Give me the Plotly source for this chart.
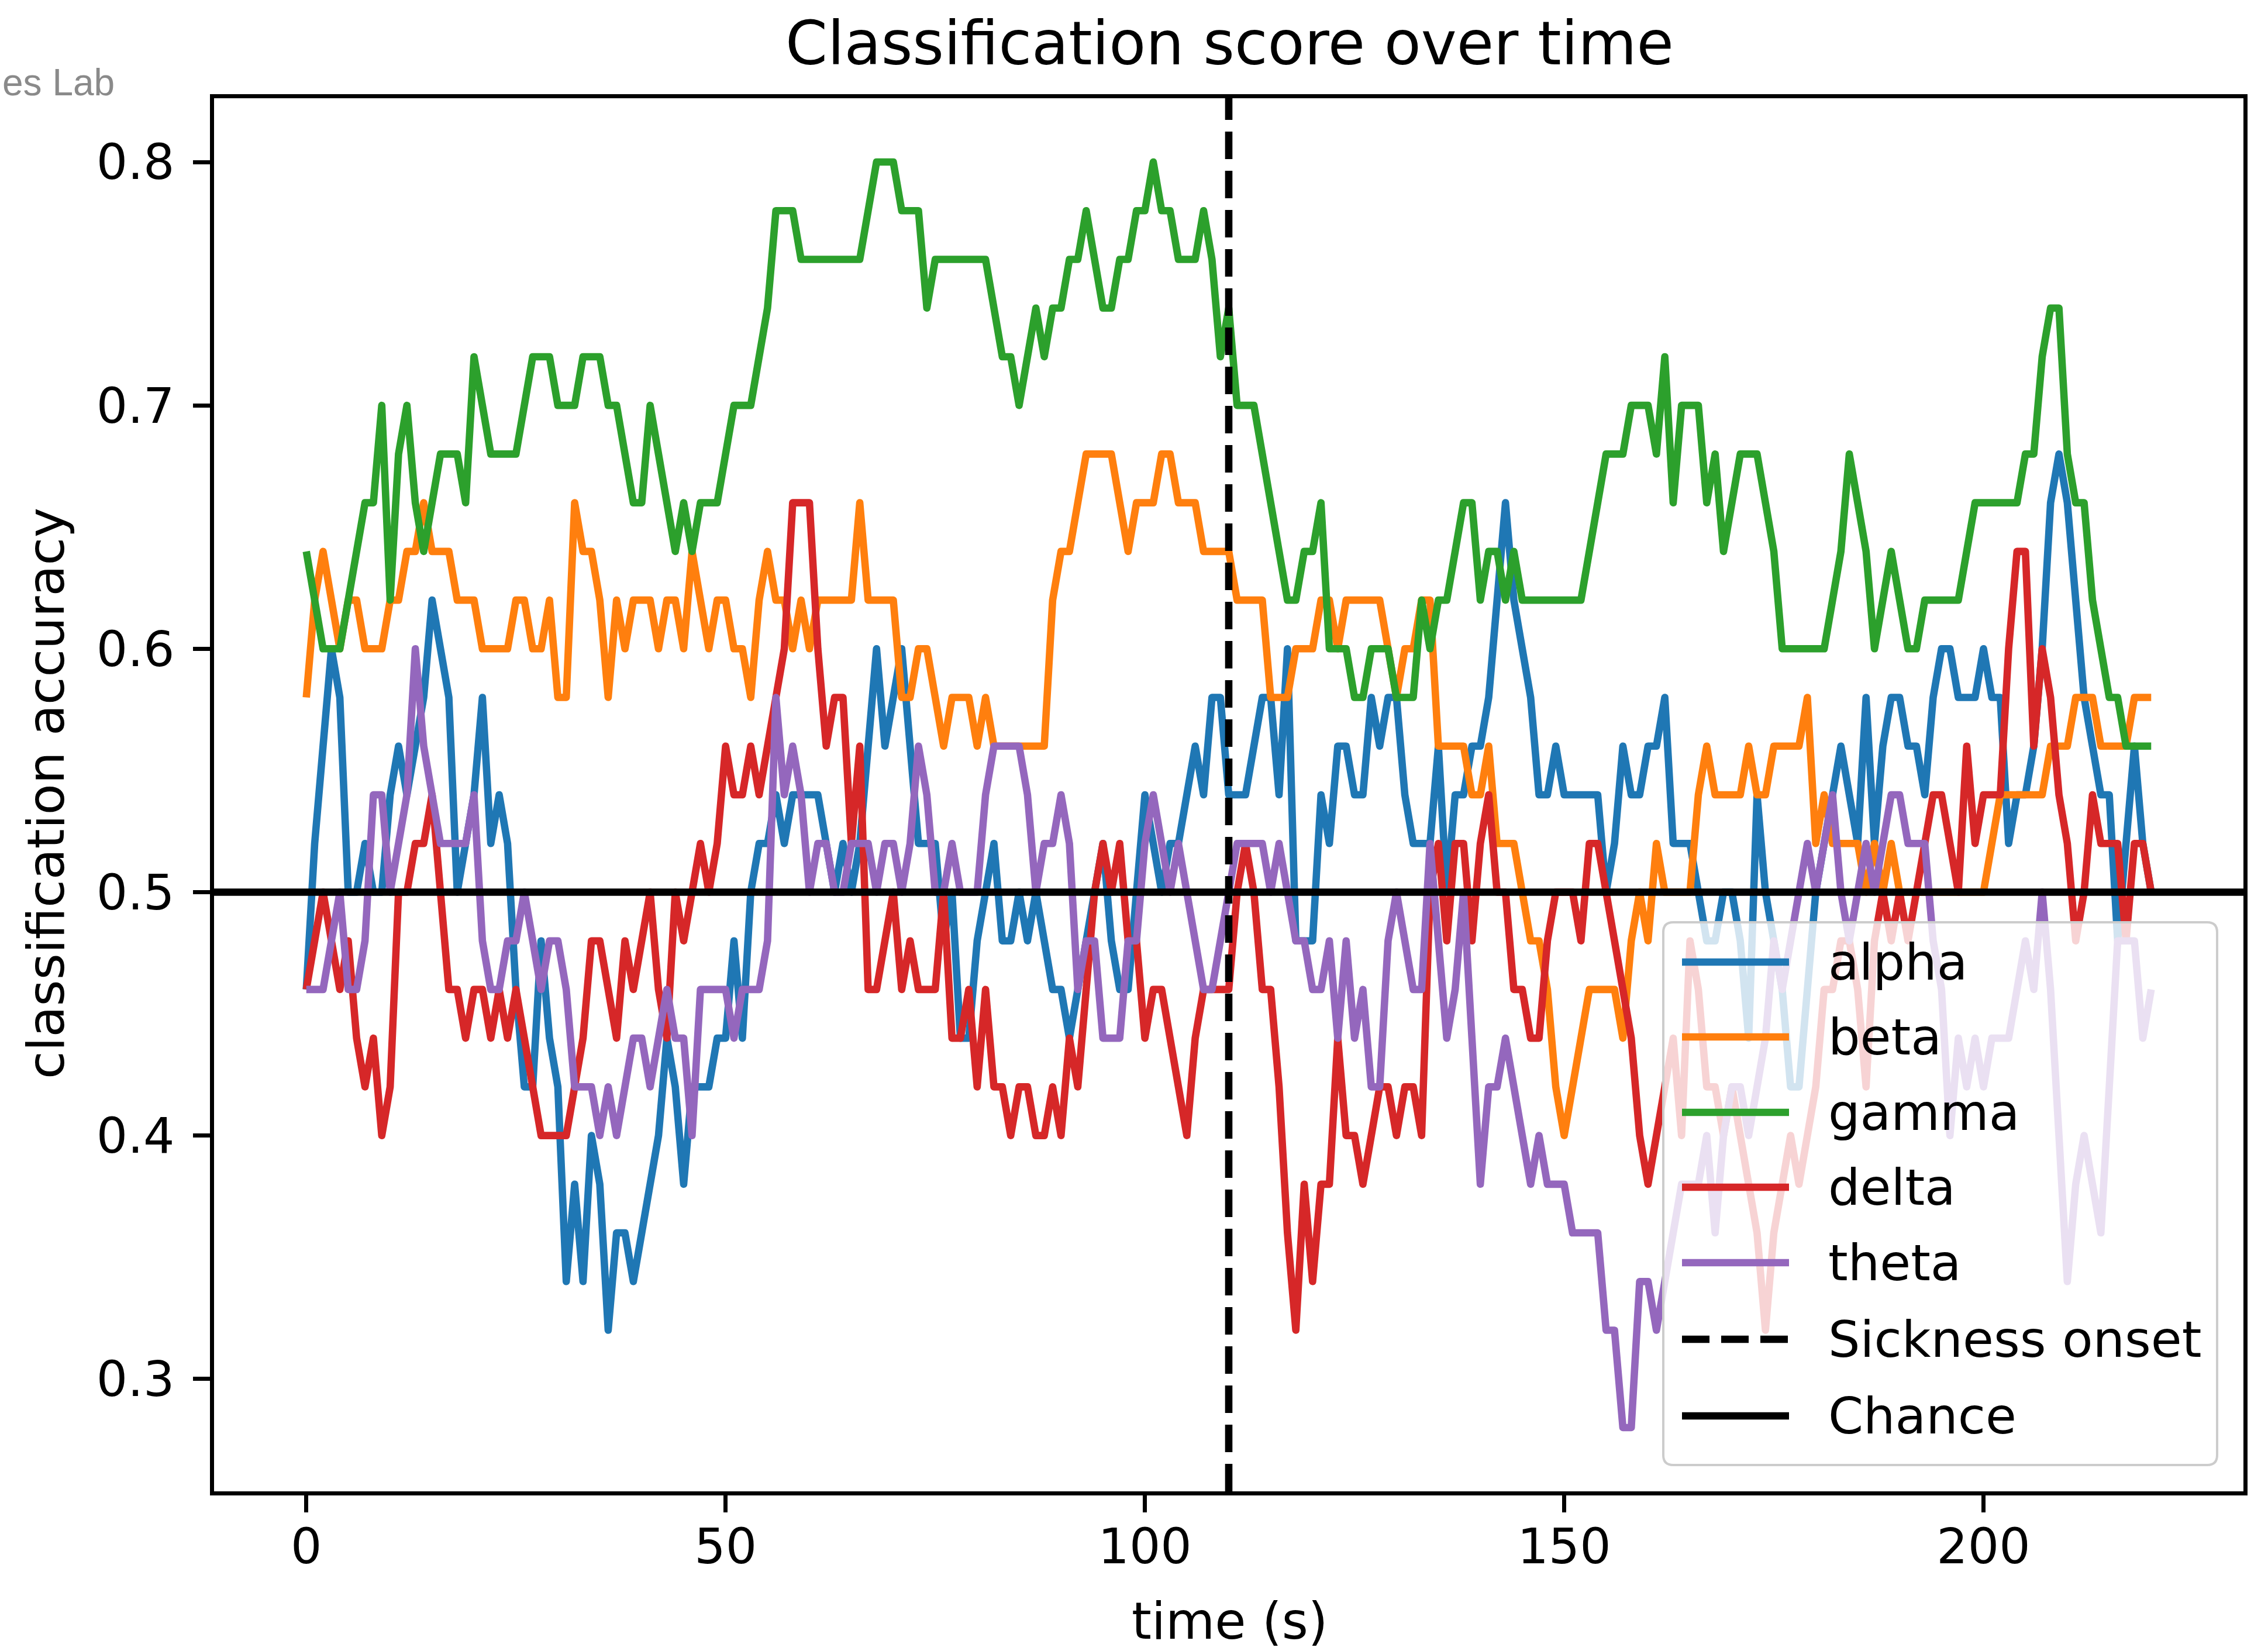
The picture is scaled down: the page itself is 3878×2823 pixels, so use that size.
import plotly.graph_objects as go

# ---------------- data ----------------
time_s = list(range(221))

alpha = [
    0.46, 0.52, 0.56, 0.60, 0.58, 0.50, 0.50, 0.52, 0.50, 0.50,
    0.54, 0.56, 0.54, 0.56, 0.58, 0.62, 0.60, 0.58, 0.50, 0.52,
    0.54, 0.58, 0.52, 0.54, 0.52, 0.46, 0.42, 0.42, 0.48, 0.44,
    0.42, 0.34, 0.38, 0.34, 0.40, 0.38, 0.32, 0.36, 0.36, 0.34,
    0.36, 0.38, 0.40, 0.44, 0.42, 0.38, 0.42, 0.42, 0.42, 0.44,
    0.44, 0.48, 0.44, 0.50, 0.52, 0.52, 0.54, 0.52, 0.54, 0.54,
    0.54, 0.54, 0.52, 0.50, 0.52, 0.50, 0.52, 0.56, 0.60, 0.56,
    0.58, 0.60, 0.56, 0.52, 0.52, 0.52, 0.48, 0.50, 0.44, 0.44,
    0.48, 0.50, 0.52, 0.48, 0.48, 0.50, 0.48, 0.50, 0.48, 0.46,
    0.46, 0.44, 0.46, 0.48, 0.50, 0.52, 0.48, 0.46, 0.46, 0.50,
    0.54, 0.52, 0.50, 0.52, 0.52, 0.54, 0.56, 0.54, 0.58, 0.58,
    0.54, 0.54, 0.54, 0.56, 0.58, 0.58, 0.54, 0.60, 0.48, 0.48,
    0.48, 0.54, 0.52, 0.56, 0.56, 0.54, 0.54, 0.58, 0.56, 0.58,
    0.58, 0.54, 0.52, 0.52, 0.52, 0.56, 0.50, 0.54, 0.54, 0.56,
    0.56, 0.58, 0.62, 0.66, 0.62, 0.60, 0.58, 0.54, 0.54, 0.56,
    0.54, 0.54, 0.54, 0.54, 0.54, 0.50, 0.52, 0.56, 0.54, 0.54,
    0.56, 0.56, 0.58, 0.52, 0.52, 0.52, 0.50, 0.48, 0.48, 0.50,
    0.50, 0.48, 0.44, 0.54, 0.50, 0.48, 0.46, 0.42, 0.42, 0.46,
    0.50, 0.52, 0.54, 0.56, 0.54, 0.52, 0.58, 0.52, 0.56, 0.58,
    0.58, 0.56, 0.56, 0.54, 0.58, 0.60, 0.60, 0.58, 0.58, 0.58,
    0.60, 0.58, 0.58, 0.52, 0.54, 0.54, 0.56, 0.60, 0.66, 0.68,
    0.66, 0.62, 0.58, 0.56, 0.54, 0.54, 0.48, 0.52, 0.56, 0.52,
    0.50,
]

beta = [
    0.58, 0.62, 0.64, 0.62, 0.60, 0.62, 0.62, 0.60, 0.60, 0.60,
    0.62, 0.62, 0.64, 0.64, 0.66, 0.64, 0.64, 0.64, 0.62, 0.62,
    0.62, 0.60, 0.60, 0.60, 0.60, 0.62, 0.62, 0.60, 0.60, 0.62,
    0.58, 0.58, 0.66, 0.64, 0.64, 0.62, 0.58, 0.62, 0.60, 0.62,
    0.62, 0.62, 0.60, 0.62, 0.62, 0.60, 0.64, 0.62, 0.60, 0.62,
    0.62, 0.60, 0.60, 0.58, 0.62, 0.64, 0.62, 0.62, 0.60, 0.62,
    0.60, 0.62, 0.62, 0.62, 0.62, 0.62, 0.66, 0.62, 0.62, 0.62,
    0.62, 0.58, 0.58, 0.60, 0.60, 0.58, 0.56, 0.58, 0.58, 0.58,
    0.56, 0.58, 0.56, 0.56, 0.56, 0.56, 0.56, 0.56, 0.56, 0.62,
    0.64, 0.64, 0.66, 0.68, 0.68, 0.68, 0.68, 0.66, 0.64, 0.66,
    0.66, 0.66, 0.68, 0.68, 0.66, 0.66, 0.66, 0.64, 0.64, 0.64,
    0.64, 0.62, 0.62, 0.62, 0.62, 0.58, 0.58, 0.58, 0.60, 0.60,
    0.60, 0.62, 0.62, 0.60, 0.62, 0.62, 0.62, 0.62, 0.62, 0.60,
    0.58, 0.60, 0.60, 0.62, 0.62, 0.56, 0.56, 0.56, 0.56, 0.54,
    0.54, 0.56, 0.52, 0.52, 0.52, 0.50, 0.48, 0.48, 0.46, 0.42,
    0.40, 0.42, 0.44, 0.46, 0.46, 0.46, 0.46, 0.44, 0.48, 0.50,
    0.48, 0.52, 0.50, 0.50, 0.50, 0.50, 0.54, 0.56, 0.54, 0.54,
    0.54, 0.54, 0.56, 0.54, 0.54, 0.56, 0.56, 0.56, 0.56, 0.58,
    0.52, 0.54, 0.52, 0.52, 0.52, 0.52, 0.50, 0.52, 0.50, 0.52,
    0.50, 0.50, 0.50, 0.50, 0.50, 0.50, 0.50, 0.50, 0.50, 0.50,
    0.50, 0.52, 0.54, 0.54, 0.54, 0.54, 0.54, 0.54, 0.56, 0.56,
    0.56, 0.58, 0.58, 0.58, 0.56, 0.56, 0.56, 0.56, 0.58, 0.58,
    0.58,
]

gamma = [
    0.64, 0.62, 0.60, 0.60, 0.60, 0.62, 0.64, 0.66, 0.66, 0.70,
    0.62, 0.68, 0.70, 0.66, 0.64, 0.66, 0.68, 0.68, 0.68, 0.66,
    0.72, 0.70, 0.68, 0.68, 0.68, 0.68, 0.70, 0.72, 0.72, 0.72,
    0.70, 0.70, 0.70, 0.72, 0.72, 0.72, 0.70, 0.70, 0.68, 0.66,
    0.66, 0.70, 0.68, 0.66, 0.64, 0.66, 0.64, 0.66, 0.66, 0.66,
    0.68, 0.70, 0.70, 0.70, 0.72, 0.74, 0.78, 0.78, 0.78, 0.76,
    0.76, 0.76, 0.76, 0.76, 0.76, 0.76, 0.76, 0.78, 0.80, 0.80,
    0.80, 0.78, 0.78, 0.78, 0.74, 0.76, 0.76, 0.76, 0.76, 0.76,
    0.76, 0.76, 0.74, 0.72, 0.72, 0.70, 0.72, 0.74, 0.72, 0.74,
    0.74, 0.76, 0.76, 0.78, 0.76, 0.74, 0.74, 0.76, 0.76, 0.78,
    0.78, 0.80, 0.78, 0.78, 0.76, 0.76, 0.76, 0.78, 0.76, 0.72,
    0.74, 0.70, 0.70, 0.70, 0.68, 0.66, 0.64, 0.62, 0.62, 0.64,
    0.64, 0.66, 0.60, 0.60, 0.60, 0.58, 0.58, 0.60, 0.60, 0.60,
    0.58, 0.58, 0.58, 0.62, 0.60, 0.62, 0.62, 0.64, 0.66, 0.66,
    0.62, 0.64, 0.64, 0.62, 0.64, 0.62, 0.62, 0.62, 0.62, 0.62,
    0.62, 0.62, 0.62, 0.64, 0.66, 0.68, 0.68, 0.68, 0.70, 0.70,
    0.70, 0.68, 0.72, 0.66, 0.70, 0.70, 0.70, 0.66, 0.68, 0.64,
    0.66, 0.68, 0.68, 0.68, 0.66, 0.64, 0.60, 0.60, 0.60, 0.60,
    0.60, 0.60, 0.62, 0.64, 0.68, 0.66, 0.64, 0.60, 0.62, 0.64,
    0.62, 0.60, 0.60, 0.62, 0.62, 0.62, 0.62, 0.62, 0.64, 0.66,
    0.66, 0.66, 0.66, 0.66, 0.66, 0.68, 0.68, 0.72, 0.74, 0.74,
    0.68, 0.66, 0.66, 0.62, 0.60, 0.58, 0.58, 0.56, 0.56, 0.56,
    0.56,
]

delta = [
    0.46, 0.48, 0.50, 0.48, 0.46, 0.48, 0.44, 0.42, 0.44, 0.40,
    0.42, 0.50, 0.50, 0.52, 0.52, 0.54, 0.50, 0.46, 0.46, 0.44,
    0.46, 0.46, 0.44, 0.46, 0.44, 0.46, 0.44, 0.42, 0.40, 0.40,
    0.40, 0.40, 0.42, 0.44, 0.48, 0.48, 0.46, 0.44, 0.48, 0.46,
    0.48, 0.50, 0.46, 0.44, 0.50, 0.48, 0.50, 0.52, 0.50, 0.52,
    0.56, 0.54, 0.54, 0.56, 0.54, 0.56, 0.58, 0.60, 0.66, 0.66,
    0.66, 0.60, 0.56, 0.58, 0.58, 0.52, 0.56, 0.46, 0.46, 0.48,
    0.50, 0.46, 0.48, 0.46, 0.46, 0.46, 0.50, 0.44, 0.44, 0.46,
    0.42, 0.46, 0.42, 0.42, 0.40, 0.42, 0.42, 0.40, 0.40, 0.42,
    0.40, 0.44, 0.42, 0.46, 0.50, 0.52, 0.50, 0.52, 0.48, 0.48,
    0.44, 0.46, 0.46, 0.44, 0.42, 0.40, 0.44, 0.46, 0.46, 0.46,
    0.46, 0.50, 0.52, 0.50, 0.46, 0.46, 0.42, 0.36, 0.32, 0.38,
    0.34, 0.38, 0.38, 0.44, 0.40, 0.40, 0.38, 0.40, 0.42, 0.42,
    0.40, 0.42, 0.42, 0.40, 0.50, 0.52, 0.48, 0.52, 0.52, 0.48,
    0.52, 0.54, 0.50, 0.50, 0.46, 0.46, 0.44, 0.44, 0.48, 0.50,
    0.50, 0.50, 0.48, 0.52, 0.52, 0.50, 0.48, 0.46, 0.44, 0.40,
    0.38, 0.40, 0.42, 0.44, 0.40, 0.48, 0.46, 0.42, 0.42, 0.40,
    0.42, 0.40, 0.38, 0.36, 0.32, 0.36, 0.38, 0.40, 0.38, 0.40,
    0.42, 0.46, 0.46, 0.48, 0.48, 0.46, 0.42, 0.48, 0.50, 0.48,
    0.50, 0.48, 0.50, 0.52, 0.54, 0.54, 0.52, 0.50, 0.56, 0.52,
    0.54, 0.54, 0.54, 0.60, 0.64, 0.64, 0.56, 0.60, 0.58, 0.54,
    0.52, 0.48, 0.50, 0.54, 0.52, 0.52, 0.52, 0.48, 0.52, 0.52,
    0.50,
]

theta = [
    0.46, 0.46, 0.46, 0.48, 0.50, 0.46, 0.46, 0.48, 0.54, 0.54,
    0.50, 0.52, 0.54, 0.60, 0.56, 0.54, 0.52, 0.52, 0.52, 0.52,
    0.54, 0.48, 0.46, 0.46, 0.48, 0.48, 0.50, 0.48, 0.46, 0.48,
    0.48, 0.46, 0.42, 0.42, 0.42, 0.40, 0.42, 0.40, 0.42, 0.44,
    0.44, 0.42, 0.44, 0.46, 0.44, 0.44, 0.40, 0.46, 0.46, 0.46,
    0.46, 0.44, 0.46, 0.46, 0.46, 0.48, 0.58, 0.54, 0.56, 0.54,
    0.50, 0.52, 0.52, 0.50, 0.50, 0.52, 0.52, 0.52, 0.50, 0.52,
    0.52, 0.50, 0.52, 0.56, 0.54, 0.50, 0.50, 0.52, 0.50, 0.50,
    0.50, 0.54, 0.56, 0.56, 0.56, 0.56, 0.54, 0.50, 0.52, 0.52,
    0.54, 0.52, 0.46, 0.48, 0.48, 0.44, 0.44, 0.44, 0.48, 0.48,
    0.52, 0.54, 0.52, 0.50, 0.52, 0.50, 0.48, 0.46, 0.46, 0.48,
    0.50, 0.52, 0.52, 0.52, 0.52, 0.50, 0.52, 0.50, 0.48, 0.48,
    0.46, 0.46, 0.48, 0.44, 0.48, 0.44, 0.46, 0.42, 0.42, 0.48,
    0.50, 0.48, 0.46, 0.46, 0.52, 0.48, 0.44, 0.46, 0.50, 0.44,
    0.38, 0.42, 0.42, 0.44, 0.42, 0.40, 0.38, 0.40, 0.38, 0.38,
    0.38, 0.36, 0.36, 0.36, 0.36, 0.32, 0.32, 0.28, 0.28, 0.34,
    0.34, 0.32, 0.34, 0.36, 0.38, 0.38, 0.38, 0.40, 0.36, 0.40,
    0.42, 0.42, 0.40, 0.42, 0.44, 0.48, 0.46, 0.48, 0.50, 0.52,
    0.50, 0.52, 0.54, 0.50, 0.48, 0.50, 0.52, 0.50, 0.52, 0.54,
    0.54, 0.52, 0.52, 0.52, 0.48, 0.46, 0.40, 0.44, 0.42, 0.44,
    0.42, 0.44, 0.44, 0.44, 0.46, 0.48, 0.46, 0.50, 0.46, 0.40,
    0.34, 0.38, 0.40, 0.38, 0.36, 0.42, 0.48, 0.48, 0.48, 0.44,
    0.46,
]

series_names = ["alpha", "beta", "gamma", "delta", "theta"]
series_values = [alpha, beta, gamma, delta, theta]
series_colors = ["#1f77b4", "#ff7f0e", "#2ca02c", "#d62728", "#9467bd"]

onset_time = 110
chance_level = 0.5

x_ticks = [0, 50, 100, 150, 200]
x_tick_labels = ["0", "50", "100", "150", "200"]
y_ticks = [0.3, 0.4, 0.5, 0.6, 0.7, 0.8]
y_tick_labels = ["0.3", "0.4", "0.5", "0.6", "0.7", "0.8"]

title_text = "Classification score over time"
x_label = "time (s)"
y_label = "classification accuracy"
legend_labels = series_names + ["Sickness onset", "Chance"]
watermark_text = "es Lab"

# ---------------- layout geometry (pixels) ----------------
W, H = 3878, 2823
L, R, T, B = 366, 42, 168, 273
PW, PH = W - L - R, H - T - B
FONT = "DejaVu Sans"
LW = 12.6          # 1.5 pt at ~606 dpi
AXLW = 6.7         # 0.8 pt


def px(x):
    return (x - L) / PW


def py(y):
    return (H - B - y) / PH


fig = go.Figure()
for name, vals, col in zip(series_names, series_values, series_colors):
    fig.add_trace(go.Scatter(
        x=time_s, y=vals, mode="lines", name=name,
        line=dict(color=col, width=LW, simplify=False),
        showlegend=False, hoverinfo="skip",
    ))

shapes = []
# sickness onset (axvline) and chance (axhline)
shapes.append(dict(type="line", xref="x", yref="paper", x0=onset_time, x1=onset_time,
                   y0=0, y1=1, line=dict(color="black", width=LW, dash="47px,20px"),
                   layer="above"))
shapes.append(dict(type="line", xref="paper", yref="y", x0=0, x1=1,
                   y0=chance_level, y1=chance_level,
                   line=dict(color="black", width=LW), layer="above"))

# legend box with rounded corners
bx0, bx1, by0, by1, rr = 2844, 3791, 1577, 2505, 17


def P(x, y):
    return f"{px(x):.5f},{py(y):.5f}"


path = (f"M {P(bx0 + rr, by0)} L {P(bx1 - rr, by0)} Q {P(bx1, by0)} {P(bx1, by0 + rr)} "
        f"L {P(bx1, by1 - rr)} Q {P(bx1, by1)} {P(bx1 - rr, by1)} "
        f"L {P(bx0 + rr, by1)} Q {P(bx0, by1)} {P(bx0, by1 - rr)} "
        f"L {P(bx0, by0 + rr)} Q {P(bx0, by0)} {P(bx0 + rr, by0)} Z")
shapes.append(dict(type="path", xref="paper", yref="paper", path=path,
                   fillcolor="rgba(255,255,255,0.8)",
                   line=dict(color="rgba(204,204,204,1)", width=4), layer="above"))

entry_y = [1645, 1773, 1902, 2030, 2159, 2290, 2421]
handle_colors = series_colors + ["black", "black"]
handle_dash = ["solid"] * 5 + ["47px,20px", "solid"]
annotations = []
for lab, ey, hc, hd in zip(legend_labels, entry_y, handle_colors, handle_dash):
    shapes.append(dict(type="line", xref="paper", yref="paper",
                       x0=px(2876), x1=px(3059), y0=py(ey), y1=py(ey),
                       line=dict(color=hc, width=LW, dash=hd), layer="above"))
    annotations.append(dict(text=lab, xref="paper", yref="paper", x=px(3124), y=py(ey),
                            xanchor="left", yanchor="middle", showarrow=False,
                            font=dict(family=FONT, size=86, color="black")))

annotations.append(dict(text=title_text, xref="paper", yref="paper", x=px(2102), y=py(74),
                        xanchor="center", yanchor="middle", showarrow=False,
                        font=dict(family=FONT, size=103, color="black")))
annotations.append(dict(text=x_label, xref="paper", yref="paper", x=px(2102), y=py(2772),
                        xanchor="center", yanchor="middle", showarrow=False,
                        font=dict(family=FONT, size=86.5, color="black")))
annotations.append(dict(text=y_label, xref="paper", yref="paper", x=px(79), y=py(1357),
                        xanchor="center", yanchor="middle", showarrow=False, textangle=-90,
                        font=dict(family=FONT, size=86.5, color="black")))
annotations.append(dict(text=watermark_text, xref="paper", yref="paper", x=px(2), y=py(141),
                        xanchor="left", yanchor="middle", showarrow=False,
                        font=dict(family="Liberation Sans", size=64, color="#8a8a8a")))

axis_common = dict(
    ticks="outside", ticklen=29, tickwidth=AXLW, tickcolor="black",
    showline=True, linecolor="black", linewidth=AXLW, mirror=True,
    showgrid=False, zeroline=False,
    tickfont=dict(family=FONT, size=84, color="black"),
)

fig.update_layout(
    width=W, height=H,
    margin=dict(l=L, r=R, t=T, b=B, pad=0),
    paper_bgcolor="white", plot_bgcolor="white",
    showlegend=False,
    xaxis=dict(range=[-11, 231], tickvals=x_ticks, ticktext=x_tick_labels,
               ticklabelstandoff=-14, **axis_common),
    yaxis=dict(range=[0.2538, 0.8262], tickvals=y_ticks, ticktext=y_tick_labels,
               ticklabelstandoff=15, **axis_common),
    shapes=shapes,
    annotations=annotations,
)

post = ("document.body.style.margin='0';"
        "document.querySelectorAll('.js-line').forEach(function(p){p.style.strokeLinejoin='round';});")
fig.write_html("out.html", post_script=post, config={"displayModeBar": False})
